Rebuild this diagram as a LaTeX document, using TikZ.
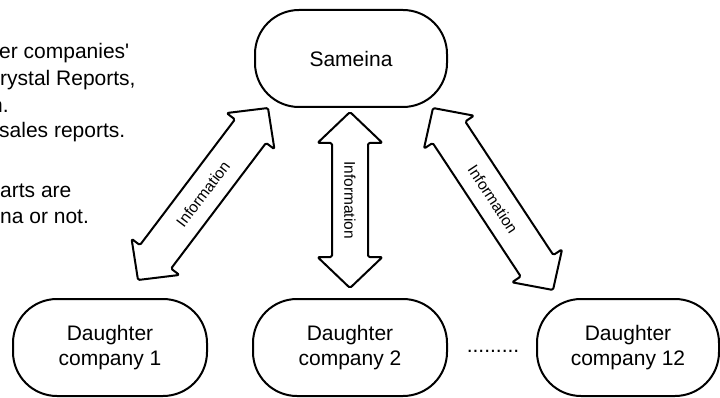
\documentclass[tikz,border=0pt]{standalone}
\usepackage{fontspec}
\setmainfont{Liberation Sans}
\usetikzlibrary{calc}

\tikzset{
  company/.style={draw, line width=2pt, rounded corners=44pt,
    minimum width=194pt, minimum height=97pt, inner sep=0pt,
    align=center, font=\fontsize{21}{25}\selectfont},
  blockarrow/.style={draw, line width=2pt, line join=round,
    rounded corners=1.5pt, fill=white},
  arrowlabel/.style={inner sep=0pt, font=\fontsize{15.5}{18}\selectfont},
  notetext/.style={anchor=base west, inner sep=0pt,
    font=\fontsize{21}{25}\selectfont},
}

% double-headed block arrow between two tip coordinates
% #1,#2 tips; #3 head length; #4 half shaft width; #5 half head width
\newcommand\dblarrow[5]{%
  \coordinate (ha) at ($(#1)!#3!(#2)$);
  \coordinate (hb) at ($(#2)!#3!(#1)$);
  \draw[blockarrow] (#1)
    -- ($(ha)!#5!90:(#2)$) -- ($(ha)!#4!90:(#2)$)
    -- ($(hb)!#4!-90:(#1)$) -- ($(hb)!#5!-90:(#1)$)
    -- (#2)
    -- ($(hb)!#5!90:(#1)$) -- ($(hb)!#4!90:(#1)$)
    -- ($(ha)!#4!-90:(#2)$) -- ($(ha)!#5!-90:(#2)$)
    -- cycle;
}

\begin{document}
\begin{tikzpicture}[x=1pt, y=-1pt]
  \useasboundingbox (0,0) rectangle (720,398);
  \clip (0,0) rectangle (720,398);

  % explanatory text
  \node[notetext] (n1) at (-1,58.5) {er companies\textquotesingle};
  \node[notetext] (n2) at (0,85.5) {rystal Reports,};
  \node[notetext] (n3) at (-9,112.5) {n.};
  \node[notetext] (n4) at (-1,137.5) {sales reports.};
  \node[notetext] (n5) at (0,197.5) {arts are};
  \node[notetext] (n6) at (0,223.5) {na or not.};

  % companies
  \node[company, minimum width=192pt] (top) at (351,58.5) {Sameina};
  \node[company] (d1) at (110,347.5) {Daughter\\company 1};
  \node[company] (d2) at (350,347.5) {Daughter\\company 2};
  \node[company, minimum width=182pt] (d12) at (628,347.5) {Daughter\\company 12};
  \node[anchor=base, inner sep=0pt, font=\fontsize{21}{25}\selectfont]
    (dots) at (493,352.5) {.........};

  % arrow tips
  \coordinate (lt) at (268,108);
  \coordinate (lb) at (138,280);
  \coordinate (mt) at (350,112);
  \coordinate (mb) at (350,288);
  \coordinate (rt) at (433,108);
  \coordinate (rb) at (553,290);

  \dblarrow{lb}{lt}{29pt}{19.5pt}{30pt}
  \dblarrow{mt}{mb}{31pt}{18pt}{32.5pt}
  \dblarrow{rt}{rb}{29pt}{19.5pt}{30pt}

  \node[arrowlabel, rotate=52.8] (il) at ($(lb)!.5!(lt)$) {Information};
  \node[arrowlabel, rotate=-90] (im) at ($(mt)!.5!(mb)$) {Information};
  \node[arrowlabel, rotate=-56.6] (ir) at ($(rt)!.5!(rb)$) {Information};
\end{tikzpicture}
\end{document}
